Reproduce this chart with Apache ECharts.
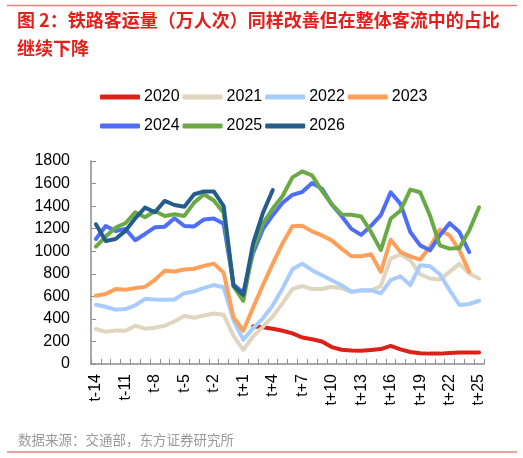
<!DOCTYPE html>
<html>
<head>
<meta charset="utf-8">
<script src="https://cdn.jsdelivr.net/npm/echarts@6/dist/echarts.min.js"></script>
<style>
html,body{margin:0;padding:0;background:#fff;}
#c{width:523px;height:458px;}
</style>
</head>
<body>
<div id="c"></div>
<script>
// ---- data ----
var categories = ['t-14','t-13','t-12','t-11','t-10','t-9','t-8','t-7','t-6','t-5','t-4','t-3','t-2','t-1','t0',
  't+1','t+2','t+3','t+4','t+5','t+6','t+7','t+8','t+9','t+10','t+11','t+12','t+13','t+14','t+15',
  't+16','t+17','t+18','t+19','t+20','t+21','t+22','t+23','t+24','t+25'];

var s2020 = [null,null,null,null,null,null,null,null,null,null,null,null,null,null,null,
  null,335,325,312,295,272,235,220,200,150,126,120,118,125,132,160,130,106,95,92,92,97,102,103,103];
var s2021 = [310,285,298,295,339,313,322,339,378,425,410,430,448,436,250,
  126,244,332,420,540,665,690,665,665,685,672,638,650,652,693,934,973,920,796,758,749,817,890,802,758];
var s2022 = [525,507,481,487,519,578,572,569,572,628,643,675,700,680,390,
  215,318,405,520,670,840,890,832,787,743,699,641,655,655,626,743,778,699,876,867,796,655,523,532,561];
var s2023 = [605,620,664,658,673,684,746,826,820,838,845,870,890,810,415,
  295,500,700,890,1070,1222,1225,1176,1140,1096,1023,955,955,973,817,1102,993,955,926,1037,1190,1140,1008,817,null];
var s2024 = [1109,1224,1180,1198,1097,1153,1212,1218,1292,1224,1220,1282,1290,1243,707,
  630,985,1195,1320,1430,1500,1525,1605,1555,1415,1312,1198,1145,1225,1320,1523,1420,1170,1052,1008,1140,1249,1170,993,null];
var s2025 = [1041,1130,1209,1248,1345,1301,1357,1313,1328,1313,1431,1505,1450,1340,690,
  560,1020,1245,1378,1490,1655,1708,1672,1535,1418,1326,1323,1308,1172,1010,1288,1361,1546,1523,1317,1052,1023,1029,1185,1390];
var s2026 = [1239,1091,1109,1180,1292,1387,1345,1446,1410,1395,1505,1530,1530,1400,695,
  612,1070,1340,1543];

var seriesNames = ['2020','2021','2022','2023','2024','2025','2026'];
var seriesData = [s2020,s2021,s2022,s2023,s2024,s2025,s2026];
var seriesColors = ['#dd2118','#e0d6c0','#a9ccff','#ffa05a','#4f6ef7','#6aaa44','#245c8c'];

var yTicks = {min:0, max:1800, interval:200};

// ---- chart ----
var chart = echarts.init(document.getElementById('c'), null, {renderer:'canvas'});
var numFont = 'Liberation Sans, Arial, sans-serif';
var cjkFont = '"Noto Sans CJK SC", sans-serif';

function legendCfg(names, top){
  return {
    data: names,
    left: 100, top: top,
    orient: 'horizontal',
    itemWidth: 40, itemHeight: 5, itemGap: 3,
    icon: 'roundRect',
    padding: 0,
    textStyle: {fontFamily: numFont, fontSize: 16, color: '#000', padding:[0,0,0,-1]}
  };
}

var series = seriesNames.map(function(n, k){
  return {
    name: n, type: 'line', data: seriesData[k],
    symbol: 'none', smooth: false, connectNulls: false,
    lineStyle: {width: 4, color: seriesColors[k], cap: 'round', join: 'round'},
    itemStyle: {color: seriesColors[k]},
    emphasis: {disabled: true},
    animation: false
  };
});

chart.setOption({
  animation: false,
  title: [
    {
      text: '图 2：铁路客运量（万人次）同样改善但在整体客流中的占比\n继续下降',
      left: 17, top: 6, padding: 0,
      textStyle: {fontFamily: cjkFont, fontSize: 18, fontWeight: 'bold', color: '#e3211c', lineHeight: 28}
    },
    {
      text: '数据来源：交通部，东方证券研究所',
      left: 18, top: 433, padding: 0,
      textStyle: {fontFamily: cjkFont, fontSize: 13.5, fontWeight: 'normal', color: '#9a9a9a'}
    }
  ],
  legend: [legendCfg(['2020','2021','2022','2023'], 89), legendCfg(['2024','2025','2026'], 118)],
  grid: {left: 91, right: 39, top: 161, bottom: 94, containLabel: false},
  xAxis: {
    type: 'category', data: categories, boundaryGap: true,
    axisLine: {show: true, lineStyle: {color: '#8c8c8c', width: 1.5}},
    axisTick: {show: true, inside: true, interval: 0, length: 5, lineStyle: {color: '#8c8c8c'}},
    axisLabel: {interval: 2, rotate: 90, margin: 10, fontFamily: numFont, fontSize: 16, color: '#000'},
    splitLine: {show: false}
  },
  yAxis: {
    type: 'value', min: yTicks.min, max: yTicks.max, interval: yTicks.interval,
    axisLine: {show: true, lineStyle: {color: '#8c8c8c', width: 1.5}},
    axisTick: {show: true, inside: true, length: 5, lineStyle: {color: '#8c8c8c'}},
    axisLabel: {margin: 21, fontFamily: numFont, fontSize: 16, color: '#000',
      formatter: function(v){ return String(v); }},
    splitLine: {show: false}
  },
  graphic: [
    {type: 'line', shape: {x1: 7, y1: 5.5, x2: 517, y2: 5.5}, style: {stroke: '#ef7f7b', lineWidth: 1.5}, silent: true},
    {type: 'line', shape: {x1: 7, y1: 452, x2: 517, y2: 452}, style: {stroke: '#ef7f7b', lineWidth: 1.5}, silent: true}
  ],
  series: series
});
</script>
</body>
</html>
